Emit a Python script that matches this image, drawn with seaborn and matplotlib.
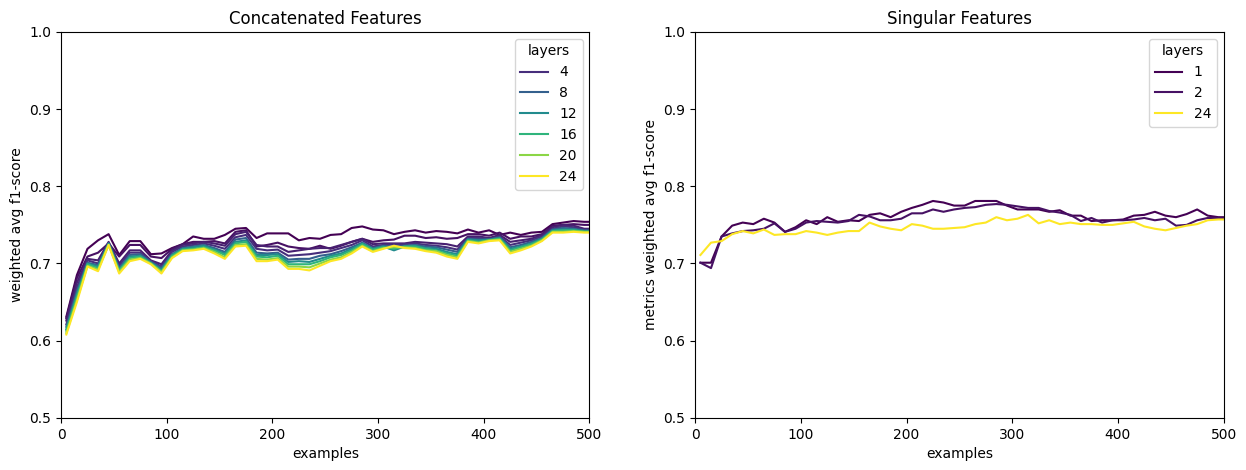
import pandas as pd
import matplotlib.pyplot as plt
import seaborn as sns

# number of examples (x axis), shared by both panels
examples = list(range(5, 506, 10))

# ========== Concatenated features: f1-score per layer ==========
concat_layers = [1, 2, 3, 4, 8, 12, 16, 20, 24]
concat_f1 = {
    1: [0.631, 0.685, 0.719, 0.730, 0.738, 0.711, 0.729, 0.729, 0.712, 0.713,
        0.720, 0.725, 0.735, 0.732, 0.732, 0.737, 0.745, 0.746, 0.733, 0.739,
        0.739, 0.739, 0.730, 0.733, 0.732, 0.737, 0.738, 0.746, 0.748, 0.744,
        0.743, 0.738, 0.741, 0.743, 0.740, 0.742, 0.741, 0.739, 0.744, 0.740,
        0.743, 0.737, 0.740, 0.737, 0.740, 0.741, 0.751, 0.753, 0.755, 0.754, 0.754],
    2: [0.629, 0.681, 0.709, 0.714, 0.726, 0.709, 0.724, 0.724, 0.709, 0.707,
        0.719, 0.725, 0.728, 0.728, 0.729, 0.726, 0.741, 0.743, 0.722, 0.724,
        0.727, 0.722, 0.720, 0.719, 0.723, 0.719, 0.723, 0.728, 0.732, 0.728,
        0.730, 0.731, 0.736, 0.736, 0.733, 0.734, 0.732, 0.733, 0.738, 0.738,
        0.736, 0.740, 0.732, 0.735, 0.735, 0.738, 0.749, 0.750, 0.751, 0.750, 0.750],
    3: [0.626, 0.675, 0.706, 0.704, 0.728, 0.700, 0.717, 0.717, 0.704, 0.699,
        0.717, 0.724, 0.726, 0.728, 0.726, 0.723, 0.738, 0.741, 0.724, 0.722,
        0.722, 0.715, 0.717, 0.719, 0.720, 0.720, 0.724, 0.728, 0.732, 0.725,
        0.726, 0.726, 0.726, 0.728, 0.727, 0.726, 0.725, 0.722, 0.735, 0.735,
        0.733, 0.737, 0.728, 0.730, 0.732, 0.737, 0.747, 0.750, 0.749, 0.745, 0.745],
    4: [0.621, 0.669, 0.704, 0.700, 0.727, 0.697, 0.714, 0.714, 0.703, 0.696,
        0.715, 0.722, 0.724, 0.726, 0.723, 0.719, 0.734, 0.737, 0.719, 0.717,
        0.718, 0.710, 0.711, 0.712, 0.714, 0.716, 0.720, 0.724, 0.730, 0.722,
        0.724, 0.725, 0.725, 0.726, 0.724, 0.723, 0.721, 0.718, 0.733, 0.733,
        0.732, 0.735, 0.724, 0.727, 0.730, 0.735, 0.745, 0.748, 0.747, 0.744, 0.744],
    8: [0.618, 0.664, 0.701, 0.698, 0.726, 0.694, 0.711, 0.712, 0.702, 0.694,
        0.712, 0.720, 0.722, 0.724, 0.720, 0.715, 0.731, 0.733, 0.714, 0.713,
        0.714, 0.705, 0.706, 0.706, 0.710, 0.712, 0.716, 0.721, 0.727, 0.720,
        0.723, 0.722, 0.723, 0.724, 0.722, 0.721, 0.718, 0.715, 0.732, 0.731,
        0.731, 0.734, 0.721, 0.724, 0.728, 0.733, 0.744, 0.746, 0.745, 0.743, 0.743],
    12: [0.615, 0.660, 0.700, 0.696, 0.726, 0.692, 0.709, 0.710, 0.701, 0.692,
         0.711, 0.719, 0.721, 0.723, 0.718, 0.713, 0.728, 0.730, 0.711, 0.711,
         0.712, 0.702, 0.703, 0.702, 0.706, 0.710, 0.713, 0.719, 0.726, 0.719,
         0.722, 0.717, 0.722, 0.723, 0.720, 0.719, 0.715, 0.712, 0.731, 0.730,
         0.731, 0.733, 0.719, 0.722, 0.726, 0.732, 0.743, 0.744, 0.744, 0.742, 0.742],
    16: [0.613, 0.657, 0.699, 0.694, 0.725, 0.691, 0.707, 0.709, 0.700, 0.690,
         0.710, 0.718, 0.719, 0.721, 0.717, 0.711, 0.726, 0.728, 0.709, 0.708,
         0.710, 0.699, 0.699, 0.699, 0.703, 0.708, 0.711, 0.717, 0.725, 0.718,
         0.721, 0.719, 0.722, 0.722, 0.719, 0.717, 0.713, 0.710, 0.730, 0.728,
         0.730, 0.732, 0.717, 0.721, 0.725, 0.731, 0.742, 0.743, 0.743, 0.741, 0.741],
    20: [0.610, 0.653, 0.697, 0.692, 0.724, 0.689, 0.705, 0.707, 0.700, 0.689,
         0.708, 0.717, 0.718, 0.720, 0.715, 0.708, 0.724, 0.725, 0.706, 0.705,
         0.707, 0.696, 0.696, 0.695, 0.700, 0.705, 0.708, 0.715, 0.723, 0.716,
         0.720, 0.721, 0.721, 0.720, 0.717, 0.716, 0.711, 0.708, 0.729, 0.727,
         0.730, 0.731, 0.715, 0.719, 0.723, 0.730, 0.741, 0.741, 0.742, 0.741, 0.741],
    24: [0.608, 0.650, 0.696, 0.690, 0.724, 0.687, 0.703, 0.706, 0.699, 0.687,
         0.707, 0.716, 0.717, 0.719, 0.713, 0.706, 0.722, 0.723, 0.703, 0.703,
         0.705, 0.693, 0.693, 0.691, 0.697, 0.703, 0.706, 0.713, 0.722, 0.715,
         0.719, 0.723, 0.720, 0.719, 0.716, 0.714, 0.709, 0.706, 0.728, 0.726,
         0.729, 0.730, 0.713, 0.717, 0.722, 0.729, 0.740, 0.740, 0.741, 0.740, 0.740],
}

# ========== Singular features: f1-score per layer ==========
single_layers = [1, 2, 24]
single_f1 = {
    1: [0.701, 0.701, 0.735, 0.749, 0.753, 0.751, 0.758, 0.753, 0.741, 0.747,
        0.756, 0.751, 0.760, 0.754, 0.756, 0.755, 0.763, 0.765, 0.760, 0.767,
        0.772, 0.776, 0.781, 0.779, 0.775, 0.775, 0.781, 0.781, 0.781, 0.775,
        0.770, 0.770, 0.770, 0.767, 0.769, 0.762, 0.762, 0.755, 0.756, 0.756,
        0.757, 0.762, 0.763, 0.767, 0.762, 0.760, 0.764, 0.770, 0.762, 0.760, 0.760],
    2: [0.701, 0.694, 0.735, 0.739, 0.742, 0.743, 0.745, 0.752, 0.741, 0.745,
        0.753, 0.755, 0.754, 0.753, 0.755, 0.763, 0.761, 0.756, 0.756, 0.758,
        0.765, 0.765, 0.770, 0.767, 0.770, 0.772, 0.773, 0.776, 0.777, 0.776,
        0.774, 0.772, 0.772, 0.768, 0.766, 0.763, 0.755, 0.759, 0.753, 0.756,
        0.756, 0.757, 0.759, 0.756, 0.758, 0.749, 0.750, 0.756, 0.759, 0.759, 0.758],
    24: [0.711, 0.727, 0.729, 0.738, 0.742, 0.739, 0.744, 0.737, 0.738, 0.738,
         0.742, 0.740, 0.737, 0.740, 0.742, 0.742, 0.753, 0.748, 0.745, 0.743,
         0.751, 0.749, 0.745, 0.745, 0.746, 0.747, 0.751, 0.753, 0.760, 0.756,
         0.758, 0.763, 0.752, 0.756, 0.751, 0.753, 0.751, 0.751, 0.750, 0.750,
         0.752, 0.754, 0.748, 0.745, 0.743, 0.746, 0.749, 0.751, 0.756, 0.757, 0.757],
}


def to_long(layers, scores):
    rows = []
    for layer in layers:
        for x, y in zip(examples, scores[layer]):
            rows.append({"examples": x, "f1": y, "layers": layer})
    return pd.DataFrame(rows)


df_concat = to_long(concat_layers, concat_f1)
df_single = to_long(single_layers, single_f1)

fig, axes = plt.subplots(1, 2, figsize=(12.46, 4.70), dpi=100)
fig.subplots_adjust(left=0.049, right=0.982, top=0.932, bottom=0.111, wspace=0.2)

sns.lineplot(data=df_concat, x="examples", y="f1", hue="layers",
             palette="viridis", ax=axes[0])
axes[0].set_title("Concatenated Features")
axes[0].set_ylabel("weighted avg f1-score")

sns.lineplot(data=df_single, x="examples", y="f1", hue="layers",
             palette="viridis", ax=axes[1])
axes[1].set_title("Singular Features")
axes[1].set_ylabel("metrics weighted avg f1-score")

for ax in axes:
    ax.set_xlim(0, 500)
    ax.set_ylim(0.5, 1.0)
    ax.set_xlabel("examples")
    ax.legend(title="layers", loc="upper right")
    sns.move_legend(ax, "upper right", title="layers")

plt.savefig("out.png")
